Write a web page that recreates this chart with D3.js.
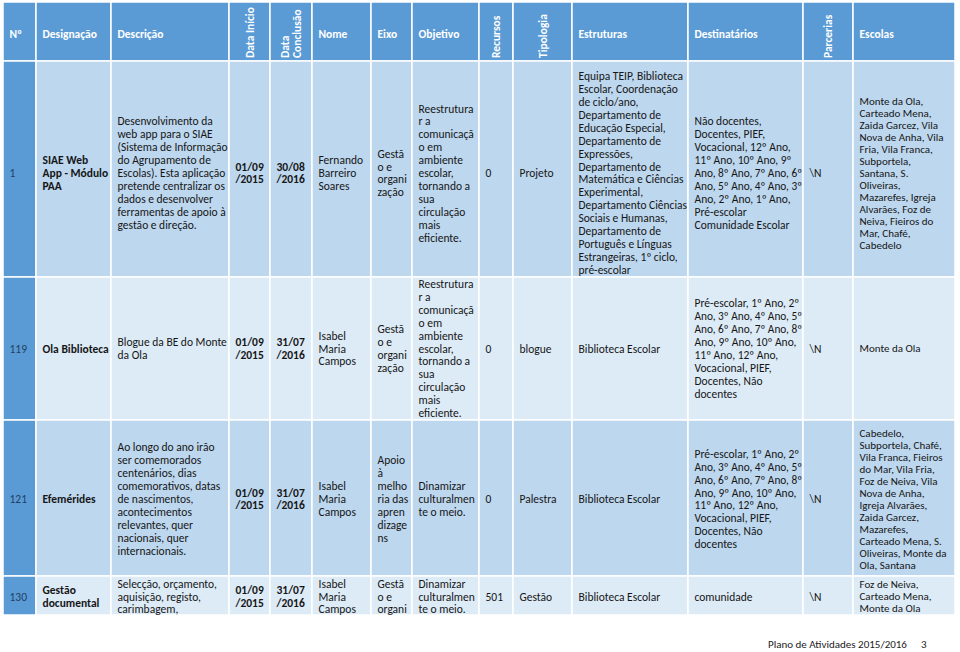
<!DOCTYPE html>
<html>
<head>
<meta charset="utf-8">
<script src="https://cdn.jsdelivr.net/npm/d3@7.9.0/dist/d3.min.js"></script>
<style>
  body { margin: 0; background: #fff; }
  svg { display: block; font-family: Carlito, Calibri, Lato, sans-serif; }
</style>
</head>
<body>
<svg id="chart" width="960" height="652"></svg>
<script>
const cabecalhos = ["Nº", "Designação", "Descrição", "Data Início", "Data\nConclusão", "Nome", "Eixo",
  "Objetivo", "Recursos", "Tipologia", "Estruturas", "Destinatários", "Parcerias", "Escolas"];

const numeros = ["1", "119", "121", "130"];
const designacoes = ["SIAE Web\nApp - Módulo\nPAA", "Ola Biblioteca", "Efemérides", "Gestão\ndocumental"];
const descricoes = [
  "Desenvolvimento da\nweb app para o SIAE\n(Sistema de Informação\ndo Agrupamento de\nEscolas). Esta aplicação\npretende centralizar os\ndados e desenvolver\nferramentas de apoio à\ngestão e direção.",
  "Blogue da BE do Monte\nda Ola",
  "Ao longo do ano irão\nser comemorados\ncentenários, dias\ncomemorativos, datas\nde nascimentos,\nacontecimentos\nrelevantes, quer\nnacionais, quer\ninternacionais.",
  "Selecção, orçamento,\naquisição, registo,\ncarimbagem,"
];
const datasInicio = ["01/09\n/2015", "01/09\n/2015", "01/09\n/2015", "01/09\n/2015"];
const datasConclusao = ["30/08\n/2016", "31/07\n/2016", "31/07\n/2016", "31/07\n/2016"];
const nomes = ["Fernando\nBarreiro\nSoares", "Isabel\nMaria\nCampos", "Isabel\nMaria\nCampos", "Isabel\nMaria\nCampos"];
const eixos = ["Gestã\no e\norgani\nzação", "Gestã\no e\norgani\nzação",
  "Apoio\nà\nmelho\nria das\napren\ndizage\nns", "Gestã\no e\norgani"];
const objetivos = [
  "Reestrutura\nr a\ncomunicaçã\no em\nambiente\nescolar,\ntornando a\nsua\ncirculação\nmais\neficiente.",
  "Reestrutura\nr a\ncomunicaçã\no em\nambiente\nescolar,\ntornando a\nsua\ncirculação\nmais\neficiente.",
  "Dinamizar\nculturalmen\nte o meio.",
  "Dinamizar\nculturalmen\nte o meio."
];
const recursos = ["0", "0", "0", "501"];
const tipologias = ["Projeto", "blogue", "Palestra", "Gestão"];
const estruturas = [
  "Equipa TEIP, Biblioteca\nEscolar, Coordenação\nde ciclo/ano,\nDepartamento de\nEducação Especial,\nDepartamento de\nExpressões,\nDepartamento de\nMatemática e Ciências\nExperimental,\nDepartamento Ciências\nSociais e Humanas,\nDepartamento de\nPortuguês e Línguas\nEstrangeiras, 1º ciclo,\npré-escolar",
  "Biblioteca Escolar", "Biblioteca Escolar", "Biblioteca Escolar"
];
const destinatarios = [
  "Não docentes,\nDocentes, PIEF,\nVocacional, 12º Ano,\n11º Ano, 10º Ano, 9º\nAno, 8º Ano, 7º Ano, 6º\nAno, 5º Ano, 4º Ano, 3º\nAno, 2º Ano, 1º Ano,\nPré-escolar\nComunidade Escolar",
  "Pré-escolar, 1º Ano, 2º\nAno, 3º Ano, 4º Ano, 5º\nAno, 6º Ano, 7º Ano, 8º\nAno, 9º Ano, 10º Ano,\n11º Ano, 12º Ano,\nVocacional, PIEF,\nDocentes, Não\ndocentes",
  "Pré-escolar, 1º Ano, 2º\nAno, 3º Ano, 4º Ano, 5º\nAno, 6º Ano, 7º Ano, 8º\nAno, 9º Ano, 10º Ano,\n11º Ano, 12º Ano,\nVocacional, PIEF,\nDocentes, Não\ndocentes",
  "comunidade"
];
const parcerias = ["\\N", "\\N", "\\N", "\\N"];
const escolas = [
  "Monte da Ola,\nCarteado Mena,\nZaida Garcez, Vila\nNova de Anha, Vila\nFria, Vila Franca,\nSubportela,\nSantana, S.\nOliveiras,\nMazarefes, Igreja\nAlvarães, Foz de\nNeiva, Fieiros do\nMar, Chafé,\nCabedelo",
  "Monte da Ola",
  "Cabedelo,\nSubportela, Chafé,\nVila Franca, Fieiros\ndo Mar, Vila Fria,\nFoz de Neiva, Vila\nNova de Anha,\nIgreja Alvarães,\nZaida Garcez,\nMazarefes,\nCarteado Mena, S.\nOliveiras, Monte da\nOla, Santana",
  "Foz de Neiva,\nCarteado Mena,\nMonte da Ola"
];
const rodape = ["Plano de Atividades 2015/2016", "3"];

const colunas = [numeros, designacoes, descricoes, datasInicio, datasConclusao, nomes, eixos,
  objetivos, recursos, tipologias, estruturas, destinatarios, parcerias, escolas];

// ---- layout ----
const larguras = [33, 75, 118, 41, 42, 59, 41, 67, 34, 59, 116, 115, 50, 102];
const alturas = [59, 216, 143, 156, 39];   // header + 4 rows
const rodado = [3, 4, 8, 9, 12];           // header labels set vertically
const negrito = [1, 3, 4];
const deslocY = [4, 0, 1, 1];               // small vertical text offset per row
const margemEsq = 3, margemTopo = 2, pad = 6.5, fs = 11.5;

const edgesX = [margemEsq, ...d3.cumsum(larguras).map(d => d + margemEsq)];
const edgesY = [margemTopo, ...d3.cumsum(alturas).map(d => d + margemTopo)];
const x = d3.scaleOrdinal(d3.range(larguras.length), edgesX);
const y = d3.scaleOrdinal(d3.range(alturas.length), edgesY);

const corCab = "#5b9bd5", corFaixa = ["#bdd7ee", "#ddebf7"];

const svg = d3.select("#chart");
svg.append("clipPath").attr("id", "clip")
  .append("rect").attr("x", 0).attr("y", 0).attr("width", 960).attr("height", edgesY[edgesY.length - 1]);
const g = svg.append("g").attr("clip-path", "url(#clip)");

// header cells
g.selectAll("rect.cab").data(cabecalhos).join("rect").attr("class", "cab")
  .attr("x", (d, i) => x(i)).attr("y", y(0))
  .attr("width", (d, i) => larguras[i]).attr("height", alturas[0])
  .attr("fill", corCab).attr("stroke", "#fff").attr("stroke-width", 1.5);

cabecalhos.forEach((lbl, i) => {
  const linhas = lbl.split("\n");
  if (rodado.includes(i)) {
    const cx = x(i) + larguras[i] / 2;
    linhas.forEach((t, k) => {
      g.append("text")
        .attr("transform", `translate(${cx + (k - (linhas.length - 1) / 2) * 12.5},58) rotate(-90)`)
        .attr("dy", "0.35em").attr("fill", "#fff").attr("font-weight", "bold")
        .attr("font-size", fs).text(t);
    });
  } else {
    g.append("text").attr("x", x(i) + pad).attr("y", 34).attr("dy", "0.35em")
      .attr("fill", "#fff").attr("font-weight", "bold").attr("font-size", fs).text(lbl);
  }
});

// body cells
numeros.forEach((_, r) => {
  const y0 = y(r + 1), h = alturas[r + 1];
  colunas.forEach((col, c) => {
    g.append("rect").attr("x", x(c)).attr("y", y0).attr("width", larguras[c]).attr("height", h)
      .attr("fill", c === 0 ? corCab : corFaixa[r % 2])
      .attr("stroke", "#fff").attr("stroke-width", 1.5);
  });
  colunas.forEach((col, c) => {
    const linhas = col[r].split("\n");
    const lh = c === 13 ? 12 : 12.9;
    const size = c === 13 ? 11 : fs;
    const cy = y0 + h / 2 + deslocY[r];
    const avail = larguras[c] - pad - 1;
    linhas.forEach((t, k) => {
      const txt = g.append("text")
        .attr("x", x(c) + pad)
        .attr("y", cy + (k - (linhas.length - 1) / 2) * lh)
        .attr("dy", "0.35em")
        .attr("font-size", size)
        .attr("font-weight", negrito.includes(c) ? "bold" : null)
        .attr("fill", c === 0 ? "#1f3f66" : "#161616")
        .text(t);
      const w = txt.node().getComputedTextLength();
      if (w > avail) txt.attr("textLength", avail).attr("lengthAdjust", "spacingAndGlyphs");
    });
  });
});

// footer
svg.append("text").attr("x", 768).attr("y", 644).attr("dy", "0.35em")
  .attr("font-size", 11).attr("fill", "#222").text(rodape[0]);
svg.append("text").attr("x", 921).attr("y", 644).attr("dy", "0.35em")
  .attr("font-size", 11).attr("fill", "#222").text(rodape[1]);
</script>
</body>
</html>
